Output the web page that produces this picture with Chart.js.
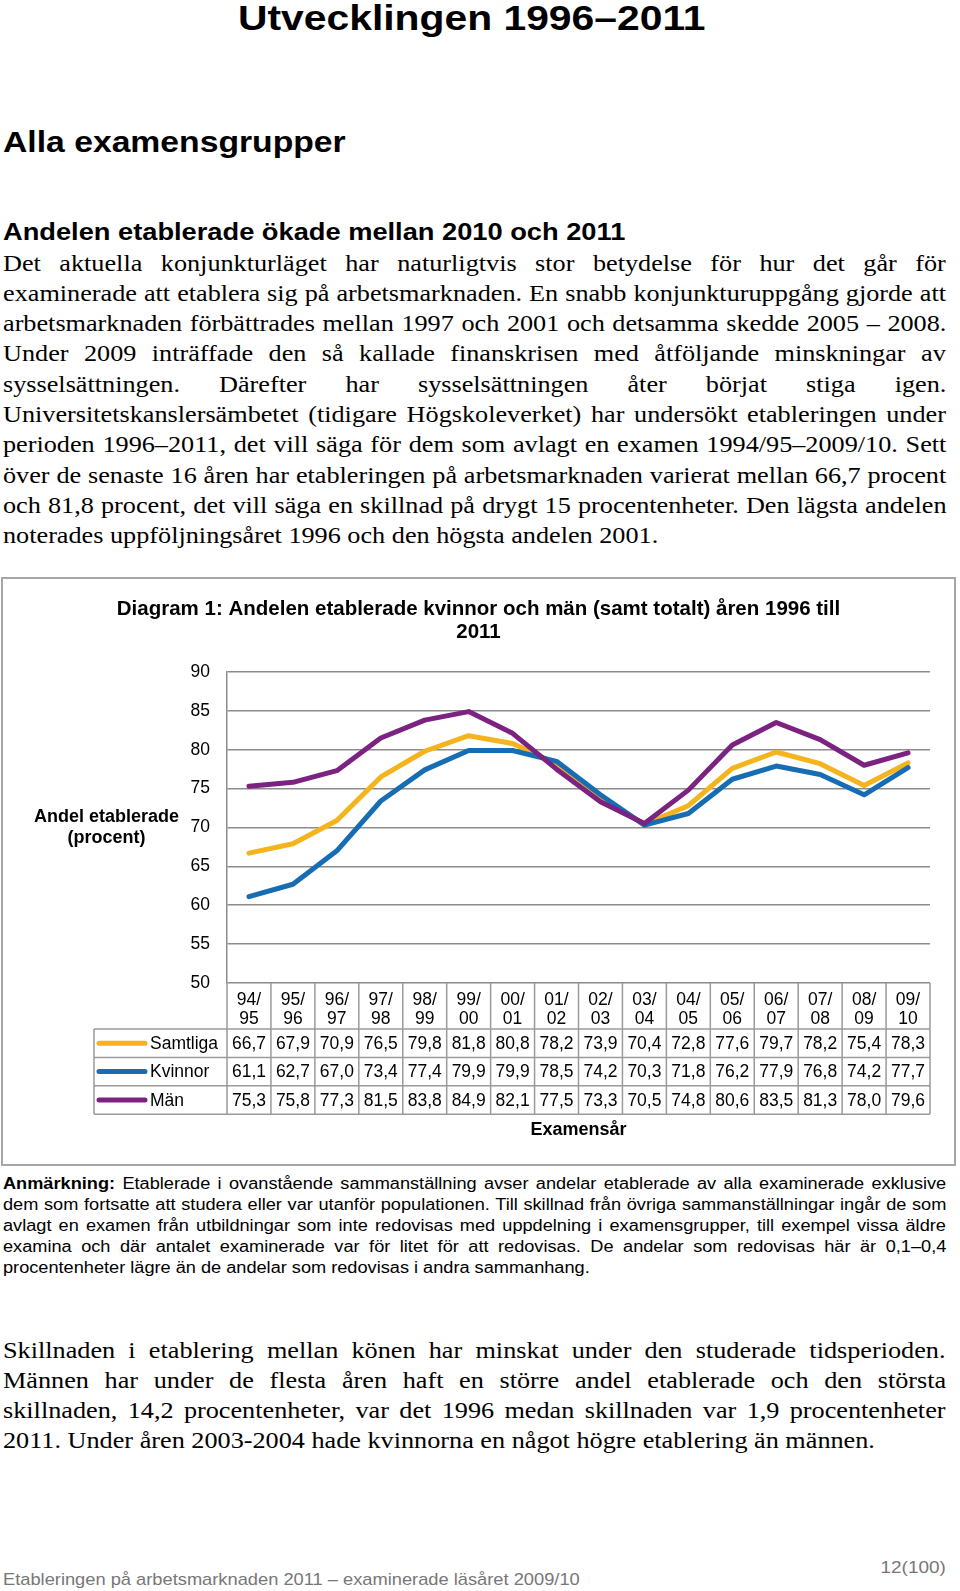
<!DOCTYPE html>
<html lang="sv">
<head>
<meta charset="utf-8">
<title>Utvecklingen 1996–2011</title>
<script src="https://cdn.jsdelivr.net/npm/chart.js@4.4.1/dist/chart.umd.min.js"></script>
<style>
  html, body { margin: 0; padding: 0; background: #fff; }
  body { width: 960px; height: 1591px; position: relative; overflow: hidden; color: #000; }
  .sx { position: absolute; transform: scaleX(1.15); transform-origin: 0 0; white-space: nowrap; }
  .sans { font-family: "Liberation Sans", Arial, sans-serif; }
  .serif { font-family: "Liberation Serif", "Times New Roman", serif; }
  .block { width: 820px; }
  .block > div { white-space: nowrap; }
  #box { position: absolute; left: 1px; top: 577px; width: 951px; height: 585px; border: 2px solid #a6a6a6; }
  #box canvas { position: absolute; left: 0; top: 0; }
</style>
</head>
<body>

<div class="sx sans" style="left:238px; top:1px; font-size:35.5px; line-height:35.5px; font-weight:bold;">Utvecklingen 1996–2011</div>
<div class="sx sans" style="left:3px; top:127px; font-size:29.3px; line-height:29.3px; font-weight:bold;">Alla examensgrupper</div>
<div class="sx sans" style="left:3px; top:221px; font-size:23.7px; line-height:23.7px; font-weight:bold;">Andelen etablerade ökade mellan 2010 och 2011</div>

<div class="sx serif block" style="left:3px; top:248.5px; font-size:22.8px; line-height:30.3px;">
  <div class="jl"><span>Det aktuella konjunkturläget har naturligtvis stor betydelse för hur det går för</span></div>
  <div class="jl"><span>examinerade att etablera sig på arbetsmarknaden. En snabb konjunkturuppgång gjorde att</span></div>
  <div class="jl"><span>arbetsmarknaden förbättrades mellan 1997 och 2001 och detsamma skedde 2005 – 2008.</span></div>
  <div class="jl"><span>Under 2009 inträffade den så kallade finanskrisen med åtföljande minskningar av</span></div>
  <div class="jl"><span>sysselsättningen. Därefter har sysselsättningen åter börjat stiga igen.</span></div>
  <div class="jl"><span>Universitetskanslersämbetet (tidigare Högskoleverket) har undersökt etableringen under</span></div>
  <div class="jl"><span>perioden 1996–2011, det vill säga för dem som avlagt en examen 1994/95–2009/10. Sett</span></div>
  <div class="jl"><span>över de senaste 16 åren har etableringen på arbetsmarknaden varierat mellan 66,7 procent</span></div>
  <div class="jl"><span>och 81,8 procent, det vill säga en skillnad på drygt 15 procentenheter. Den lägsta andelen</span></div>
  <div><span>noterades uppföljningsåret 1996 och den högsta andelen 2001.</span></div>
</div>

<div id="box"><canvas id="myChart" width="951" height="585"></canvas></div>

<div class="sx sans block" style="left:3px; top:1172.5px; font-size:15.8px; line-height:21.1px;">
  <div class="jl"><span><b>Anmärkning:</b> Etablerade i ovanstående sammanställning avser andelar etablerade av alla examinerade exklusive</span></div>
  <div class="jl"><span>dem som fortsatte att studera eller var utanför populationen. Till skillnad från övriga sammanställningar ingår de som</span></div>
  <div class="jl"><span>avlagt en examen från utbildningar som inte redovisas med uppdelning i examensgrupper, till exempel vissa äldre</span></div>
  <div class="jl"><span>examina och där antalet examinerade var för litet för att redovisas. De andelar som redovisas här är 0,1–0,4</span></div>
  <div><span>procentenheter lägre än de andelar som redovisas i andra sammanhang.</span></div>
</div>

<div class="sx serif block" style="left:3px; top:1335.5px; font-size:22.8px; line-height:30.2px;">
  <div class="jl"><span>Skillnaden i etablering mellan könen har minskat under den studerade tidsperioden.</span></div>
  <div class="jl"><span>Männen har under de flesta åren haft en större andel etablerade och den största</span></div>
  <div class="jl"><span>skillnaden, 14,2 procentenheter, var det 1996 medan skillnaden var 1,9 procentenheter</span></div>
  <div><span>2011. Under åren 2003-2004 hade kvinnorna en något högre etablering än männen.</span></div>
</div>

<div class="sx sans" style="right:14px; top:1559px; font-size:16.5px; line-height:16.5px; color:#777; transform-origin:100% 0;">12(100)</div>
<div class="sx sans" style="left:3px; top:1572px; font-size:15.9px; line-height:15.9px; color:#777;">Etableringen på arbetsmarknaden 2011 – examinerade läsåret 2009/10</div>

<script>
// justify each line to the full width by spreading the word gaps
document.querySelectorAll('.jl').forEach(function (el) {
  const span = el.firstElementChild;
  const gaps = span.textContent.trim().split(/\s+/).length - 1;
  const extra = el.clientWidth - span.offsetWidth;
  if (gaps > 0) el.style.wordSpacing = (extra / gaps) + 'px';
});

const categories = ['94/95', '95/96', '96/97', '97/98', '98/99', '99/00', '00/01', '01/02',
                    '02/03', '03/04', '04/05', '05/06', '06/07', '07/08', '08/09', '09/10'];
const samtliga = [66.7, 67.9, 70.9, 76.5, 79.8, 81.8, 80.8, 78.2, 73.9, 70.4, 72.8, 77.6, 79.7, 78.2, 75.4, 78.3];
const kvinnor  = [61.1, 62.7, 67.0, 73.4, 77.4, 79.9, 79.9, 78.5, 74.2, 70.3, 71.8, 76.2, 77.9, 76.8, 74.2, 77.7];
const man      = [75.3, 75.8, 77.3, 81.5, 83.8, 84.9, 82.1, 77.5, 73.3, 70.5, 74.8, 80.6, 83.5, 81.3, 78.0, 79.6];
const yTicks = { min: 50, max: 90, step: 5 };

const FONT = '"Liberation Sans", Arial, sans-serif';
Chart.defaults.font.family = FONT;
Chart.defaults.color = '#000';

const gridGray = '#8c8c8c';
const tableGray = '#9a9a9a';

// draws y title, the data table under the x axis and the x title
const tablePlugin = {
  id: 'dataTable',
  afterDraw(chart) {
    const ctx = chart.ctx;
    const a = chart.chartArea;
    const x = chart.scales.x;
    const n = categories.length;
    const colW = x.getPixelForValue(1) - x.getPixelForValue(0);
    const headBottom = a.bottom + 46;
    const rowH = 28.4;
    const legLeft = 91;
    const sets = chart.data.datasets;
    const tableBottom = headBottom + sets.length * rowH;

    ctx.save();
    ctx.strokeStyle = tableGray;
    ctx.lineWidth = 1.5;
    ctx.beginPath();
    for (let i = 0; i <= n; i++) {
      const px = x.getPixelForValue(0) - colW / 2 + i * colW;
      ctx.moveTo(px, a.bottom);
      ctx.lineTo(px, tableBottom);
    }
    ctx.moveTo(legLeft, headBottom);
    ctx.lineTo(legLeft, tableBottom);
    for (let r = 0; r <= sets.length; r++) {
      const py = headBottom + r * rowH;
      ctx.moveTo(legLeft, py);
      ctx.lineTo(a.right, py);
    }
    ctx.stroke();

    ctx.textBaseline = 'middle';
    sets.forEach(function (ds, r) {
      const mid = headBottom + r * rowH + rowH / 2;
      ctx.strokeStyle = ds.borderColor;
      ctx.lineWidth = 5;
      ctx.lineCap = 'round';
      ctx.beginPath();
      ctx.moveTo(96, mid);
      ctx.lineTo(142, mid);
      ctx.stroke();

      ctx.fillStyle = '#000';
      ctx.font = '17.5px ' + FONT;
      ctx.textAlign = 'left';
      ctx.fillText(ds.label, 147, mid + 1);
      ctx.textAlign = 'center';
      ds.data.forEach(function (v, i) {
        ctx.fillText(v.toFixed(1).replace('.', ','), x.getPixelForValue(i), mid + 1);
      });
    });

    ctx.font = 'bold 18px ' + FONT;
    ctx.textAlign = 'center';
    ctx.fillText('Examensår', (a.left + a.right) / 2, 551);

    const ym = (a.top + a.bottom) / 2;
    ctx.fillText('Andel etablerade', 103.5, ym - 10.5);
    ctx.fillText('(procent)', 103.5, ym + 10.5);
    ctx.restore();
  }
};

const ctx = document.getElementById('myChart').getContext('2d');
const myChart = new Chart(ctx, {
  type: 'line',
  data: {
    labels: categories,
    datasets: [
      { label: 'Samtliga', data: samtliga, borderColor: '#f5b31c', order: 3 },
      { label: 'Kvinnor', data: kvinnor, borderColor: '#176db3', order: 2 },
      { label: 'Män', data: man, borderColor: '#7c2280', order: 1 }
    ]
  },
  options: {
    responsive: false,
    animation: false,
    events: [],
    elements: {
      line: { borderWidth: 5, tension: 0, borderCapStyle: 'round', borderJoinStyle: 'round', fill: false },
      point: { radius: 0, hoverRadius: 0 }
    },
    layout: { padding: { left: 24, right: 24, top: 0, bottom: 0 } },
    plugins: {
      legend: { display: false },
      tooltip: { enabled: false },
      title: {
        display: true,
        text: ['Diagram 1: Andelen etablerade kvinnor och män (samt totalt) åren 1996 till', '2011'],
        color: '#000',
        font: { size: 20.5, weight: 'bold', lineHeight: 1.12 },
        padding: { top: 18.5, bottom: 28.5 }
      }
    },
    scales: {
      x: {
        type: 'category',
        offset: true,
        grid: { display: false },
        border: { display: false },
        ticks: {
          autoSkip: false,
          maxRotation: 0,
          padding: 0,
          color: '#000',
          font: { size: 17.5, lineHeight: 1.086 },
          callback: function (v, i) {
            const parts = categories[i].split('/');
            return [parts[0] + '/', parts[1]];
          }
        },
        afterFit: function (scale) { scale.height = 181; }
      },
      y: {
        min: yTicks.min,
        max: yTicks.max,
        grid: { color: gridGray, lineWidth: 1.5, drawTicks: false },
        border: { display: true, color: gridGray, width: 1.5 },
        ticks: {
          stepSize: yTicks.step,
          padding: 17,
          color: '#000',
          font: { size: 17.5 }
        },
        afterFit: function (scale) { scale.width = 200; }
      }
    }
  },
  plugins: [tablePlugin]
});
</script>
</body>
</html>
